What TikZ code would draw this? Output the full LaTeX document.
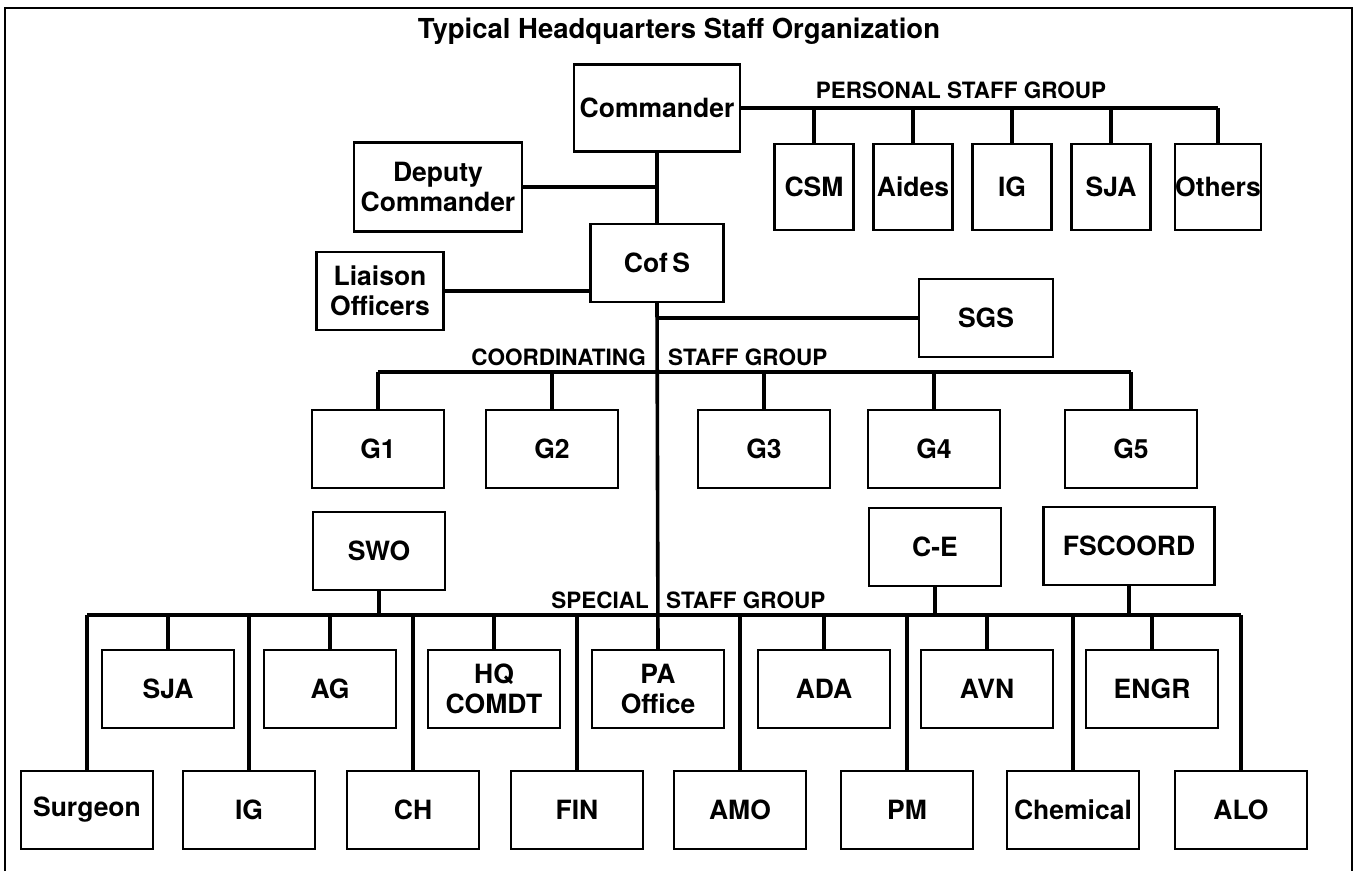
\documentclass[tikz,border=0pt]{standalone}
\usepackage{fontspec}
\setmainfont{TeX Gyre Heros}
\usepackage{tikz}
\usetikzlibrary{positioning}
\tikzset{
  box/.style={draw, line width=2.2pt, minimum width=132pt, minimum height=78pt,
    inner sep=0pt, align=center, font=\fontsize{26.5}{30}\selectfont\bfseries},
  pbox/.style={box, minimum width=79pt, minimum height=86pt},
  grp/.style={inner sep=0pt, font=\fontsize{22.5}{24}\selectfont\bfseries},
  link/.style={line width=3.6pt},
}

\begin{document}
\begin{tikzpicture}[x=1pt, y=-1pt]
            \useasboundingbox (0, 0) rectangle (1362, 871);
            \draw[line width=2pt] (5, 871) -- (5, 8) -- (1352, 8) -- (1352, 871);
            \node[anchor=base, inner sep=0pt, font=\fontsize{27.5}{30}\selectfont\bfseries] (title) at (679, 38) {Typical Headquarters Staff Organization};

            \node[box, minimum width=166pt, minimum height=87pt] (cmd) at (657, 108) {Commander};
            \node[box, minimum width=168pt, minimum height=89pt] (dep) at (438, 187) {Deputy\\Commander};
            \node[box, minimum width=133pt] (cofs) at (657, 263) {Cof\,S};
            \node[box, minimum width=127pt] (lno) at (380, 291) {Liaison\\Officers};
            \node[box, minimum width=134pt] (sgs) at (986, 318) {SGS};

            % personal staff
            \node[grp] (pgrp) at (961, 90) {PERSONAL STAFF GROUP};
            \node[pbox] (csm) at (814, 187) {CSM};
            \node[pbox] (aides) at (913, 187) {Aides};
            \node[pbox] (pig) at (1012, 187) {IG};
            \node[pbox] (psja) at (1111, 187) {SJA};
            \node[pbox, minimum width=85pt] (oth) at (1218, 187) {Others};
            \draw[link] (cmd.east) -- (oth.north |- cmd.east);
            \draw[link] (csm.north) -- (csm.north |- cmd.east);
            \draw[link] (aides.north) -- (aides.north |- cmd.east);
            \draw[link] (pig.north) -- (pig.north |- cmd.east);
            \draw[link] (psja.north) -- (psja.north |- cmd.east);
            \draw[link] (oth.north) -- (oth.north |- cmd.east);

            \draw[link] (cmd.south) -- (cofs.north);
            \draw[link] (dep.east) -- (dep.east -| cmd.south);
            \draw[link] (lno.east) -- (lno.east -| cofs.west);
            \draw[link] (sgs.west) -- (sgs.west -| cofs.south);

            % coordinating staff
            \coordinate (cbus) at (657, 372);
            \node[grp, anchor=east] (cgrpa) at (646, 357) {COORDINATING};
            \node[grp, anchor=west] (cgrpb) at (668, 357) {STAFF GROUP};
            \node[box] (g1) at (378, 449) {G1};
            \node[box] (g2) at (552, 449) {G2};
            \node[box] (g3) at (764, 449) {G3};
            \node[box] (g4) at (934, 449) {G4};
            \node[box] (g5) at (1131, 449) {G5};
            \draw[link] (g1.north |- cbus) -- (g5.north |- cbus);
            \draw[link] (g1.north) -- (g1.north |- cbus);
            \draw[link] (g2.north) -- (g2.north |- cbus);
            \draw[link] (g3.north) -- (g3.north |- cbus);
            \draw[link] (g4.north) -- (g4.north |- cbus);
            \draw[link] (g5.north) -- (g5.north |- cbus);

            % special staff
            \coordinate (sbus) at (657, 615);
            \node[grp, anchor=east] (sgrpa) at (649, 600) {SPECIAL};
            \node[grp, anchor=west] (sgrpb) at (666, 600) {STAFF GROUP};
            \node[box] (swo) at (379, 551) {SWO};
            \node[box] (ce) at (935, 547) {C-E};
            \node[box, minimum width=171pt] (fsc) at (1129, 546) {FSCOORD};

            \node[box] (ssja) at (168, 689) {SJA};
            \node[box] (ag) at (330, 689) {AG};
            \node[box] (hq) at (494, 689) {HQ\\COMDT};
            \node[box] (pa) at (658, 689) {PA\\Office};
            \node[box] (ada) at (824, 689) {ADA};
            \node[box] (avn) at (987, 689) {AVN};
            \node[box] (engr) at (1152, 689) {ENGR};

            \node[box] (surg) at (87, 810) {Surgeon};
            \node[box] (sig) at (249, 810) {IG};
            \node[box] (ch) at (413, 810) {CH};
            \node[box] (fin) at (577, 810) {FIN};
            \node[box] (amo) at (740, 810) {AMO};
            \node[box] (pm) at (907, 810) {PM};
            \node[box] (chem) at (1073, 810) {Chemical};
            \node[box] (alo) at (1241, 810) {ALO};

            \draw[link] (cofs.south) -- (pa.north);
            \draw[link] (surg.north |- sbus) -- (alo.north |- sbus);
            \draw[link] (swo.south) -- (swo.south |- sbus);
            \draw[link] (ce.south) -- (ce.south |- sbus);
            \draw[link] (fsc.south) -- (fsc.south |- sbus);
            \draw[link] (ssja.north) -- (ssja.north |- sbus);
            \draw[link] (ag.north) -- (ag.north |- sbus);
            \draw[link] (hq.north) -- (hq.north |- sbus);
            \draw[link] (ada.north) -- (ada.north |- sbus);
            \draw[link] (avn.north) -- (avn.north |- sbus);
            \draw[link] (engr.north) -- (engr.north |- sbus);
            \draw[link] (surg.north) -- (surg.north |- sbus);
            \draw[link] (sig.north) -- (sig.north |- sbus);
            \draw[link] (ch.north) -- (ch.north |- sbus);
            \draw[link] (fin.north) -- (fin.north |- sbus);
            \draw[link] (amo.north) -- (amo.north |- sbus);
            \draw[link] (pm.north) -- (pm.north |- sbus);
            \draw[link] (chem.north) -- (chem.north |- sbus);
            \draw[link] (alo.north) -- (alo.north |- sbus);
        \end{tikzpicture}
\end{document}
